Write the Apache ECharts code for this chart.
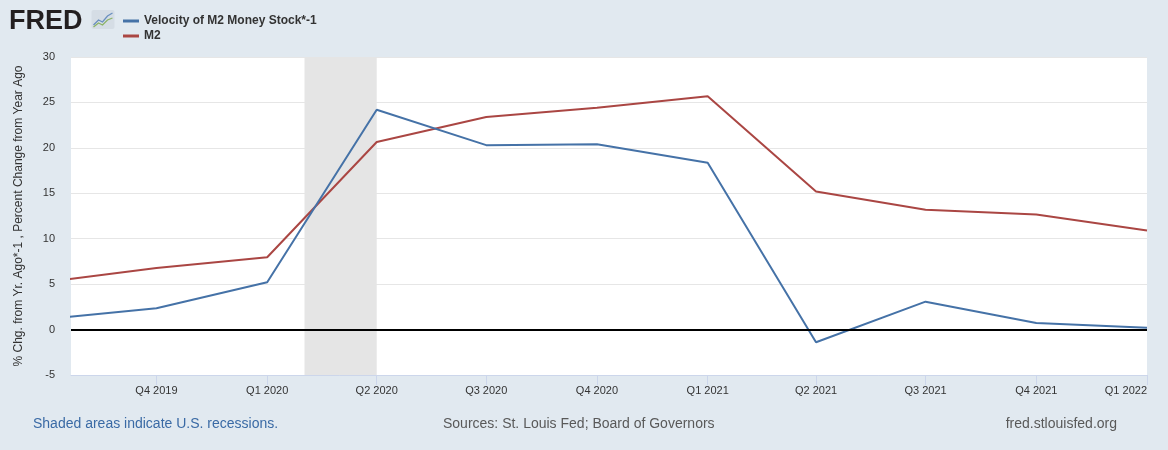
<!DOCTYPE html>
<html>
<head>
<meta charset="utf-8">
<script src="https://cdn.jsdelivr.net/npm/echarts@6/dist/echarts.min.js"></script>
<style>
  html, body { margin: 0; padding: 0; background: #e1e9f0; }
  #main { width: 1168px; height: 450px; }
</style>
</head>
<body>
<div id="main"></div>
<script>
// quarterly observations (first one sits just left of the visible range)
const quarters = ['2019-07-01', '2019-10-01', '2020-01-01', '2020-04-01', '2020-07-01', '2020-10-01',
  '2021-01-01', '2021-04-01', '2021-07-01', '2021-10-01', '2022-01-01'];
const velocity = [1.14, 2.34, 5.2, 24.2, 20.3, 20.4, 18.35, -1.4, 3.07, 0.72, 0.2];
const m2 = [5.21, 6.78, 7.96, 20.64, 23.4, 24.42, 25.67, 15.2, 13.18, 12.66, 10.9];
const tickQuarters = quarters.slice(1);
const recession = ['2020-02-01', '2020-04-01'];
const viewStart = '2019-07-22';

function ts(d) {
  const p = d.split('-');
  return Date.UTC(+p[0], +p[1] - 1, +p[2]);
}
function quarterLabel(v) {
  const d = new Date(v);
  return 'Q' + (Math.floor(d.getUTCMonth() / 3) + 1) + ' ' + d.getUTCFullYear();
}

const font = '"Liberation Sans", Arial, sans-serif';
const chart = echarts.init(document.getElementById('main'));

chart.setOption({
  backgroundColor: '#e1e9f0',
  animation: false,
  textStyle: { fontFamily: font },
  grid: { left: 71, right: 21, top: 57, bottom: 75, show: true, backgroundColor: '#fff', borderWidth: 0 },
  legend: {
    orient: 'vertical',
    left: 118,
    top: 10,
    itemGap: 3,
    itemWidth: 16,
    itemHeight: 3,
    icon: 'rect',
    textStyle: { fontFamily: font, fontSize: 12, fontWeight: 'bold', color: '#333', padding: [0, 0, 0, 0] },
    data: ['Velocity of M2 Money Stock*-1', 'M2']
  },
  xAxis: {
    type: 'value',
    min: ts(viewStart),
    max: ts(quarters[quarters.length - 1]),
    splitLine: { show: false },
    axisLine: { show: true, onZero: false, lineStyle: { color: '#ccd6eb', width: 1 } },
    axisTick: { show: true, length: 10, lineStyle: { color: '#ccd6eb' }, customValues: tickQuarters.map(ts) },
    axisLabel: {
      customValues: tickQuarters.map(ts),
      formatter: quarterLabel,
      color: '#333',
      fontSize: 11,
      margin: 10,
      alignMaxLabel: 'right'
    }
  },
  yAxis: {
    type: 'value',
    min: -5,
    max: 30,
    interval: 5,
    name: '% Chg. from Yr. Ago*-1 , Percent Change from Year Ago',
    nameLocation: 'middle',
    nameGap: 46,
    nameTextStyle: { fontSize: 12, color: '#333', fontFamily: font },
    axisLine: { show: false },
    axisTick: { show: false },
    axisLabel: { color: '#333', fontSize: 11, margin: 16 },
    splitLine: { lineStyle: { color: '#e6e6e6', width: 1 } }
  },
  series: [
    {
      name: 'Velocity of M2 Money Stock*-1',
      type: 'line',
      data: quarters.map((q, i) => [ts(q), velocity[i]]),
      showSymbol: false,
      color: '#4572a7',
      lineStyle: { width: 2 },
      z: 3,
      markArea: {
        silent: true,
        itemStyle: { color: '#e5e5e5' },
        data: [[{ xAxis: ts(recession[0]) }, { xAxis: ts(recession[1]) }]]
      },
      markLine: {
        silent: true,
        symbol: 'none',
        label: { show: false },
        lineStyle: { color: '#000', width: 2, type: 'solid' },
        data: [{ yAxis: 0 }]
      }
    },
    {
      name: 'M2',
      type: 'line',
      data: quarters.map((q, i) => [ts(q), m2[i]]),
      showSymbol: false,
      color: '#aa4643',
      lineStyle: { width: 2 },
      z: 2
    }
  ],
  graphic: [
    {
      type: 'text', left: 9, top: 8,
      style: { text: 'FRED', font: 'bold 27px ' + font, fill: '#231f20' }
    },
    {
      type: 'group', left: 91, top: 10,
      children: [
        { type: 'rect', shape: { x: 0, y: 0, width: 23, height: 19, r: 2 }, style: { fill: '#d5dde5' } },
        { type: 'polyline', shape: { points: [[2, 15], [7, 10], [11, 12], [16, 6], [21, 3]] }, style: { stroke: '#6a8fbf', lineWidth: 1.3, fill: null } },
        { type: 'polyline', shape: { points: [[2, 17], [7, 13], [11, 15], [16, 10], [21, 8]] }, style: { stroke: '#8cb368', lineWidth: 1.3, fill: null } }
      ]
    },
    {
      type: 'text', left: 33, top: 417,
      style: { text: 'Shaded areas indicate U.S. recessions.', font: '14px ' + font, fill: '#3a6aa5' }
    },
    {
      type: 'text', left: 443, top: 417,
      style: { text: 'Sources: St. Louis Fed; Board of Governors', font: '14px ' + font, fill: '#595959' }
    },
    {
      type: 'text', right: 51, top: 417,
      style: { text: 'fred.stlouisfed.org', font: '14px ' + font, fill: '#595959' }
    }
  ]
});
</script>
</body>
</html>
